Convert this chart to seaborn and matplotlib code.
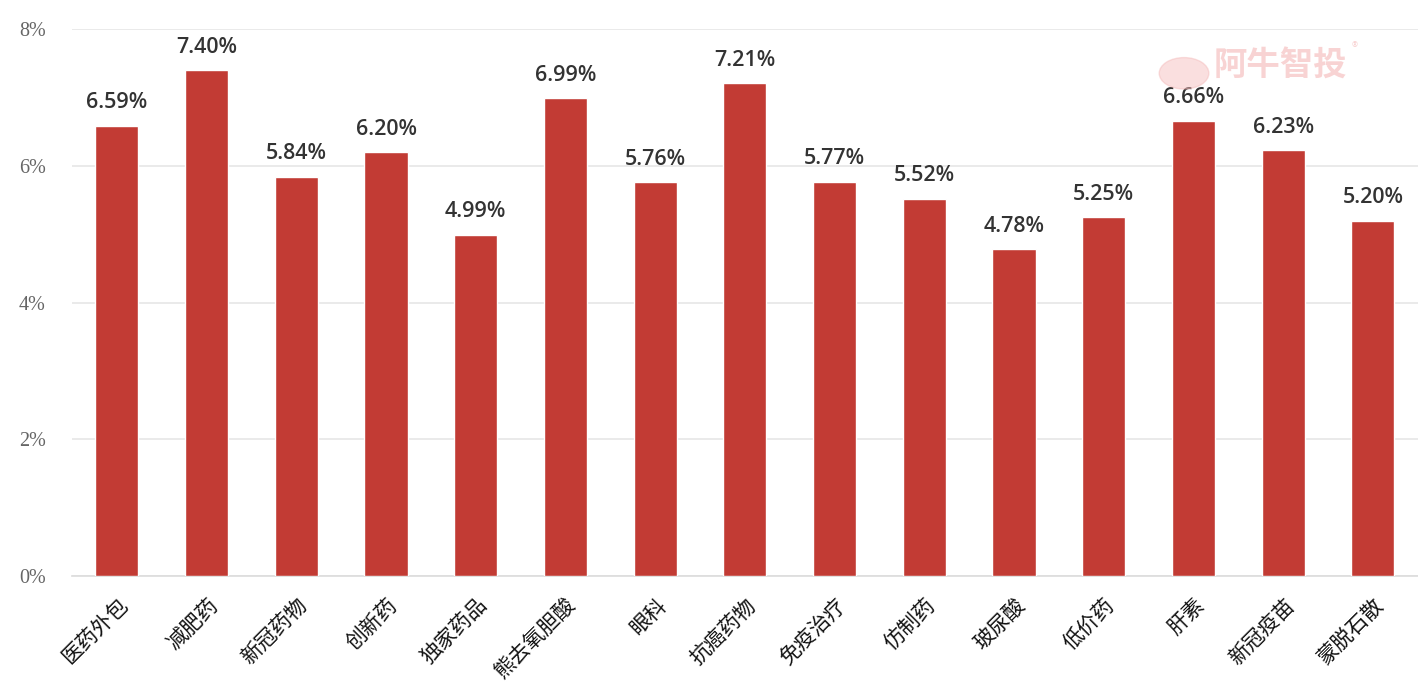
import matplotlib
matplotlib.use('Agg')
import matplotlib.pyplot as plt
from matplotlib.patches import Ellipse
import seaborn as sns
import pandas as pd

# categories and values (%)
categories = ['医药外包', '减肥药', '新冠药物', '创新药', '独家药品', '熊去氧胆酸', '眼科', '抗癌药物',
              '免疫治疗', '仿制药', '玻尿酸', '低价药', '肝素', '新冠疫苗', '蒙脱石散']
values = [6.59, 7.40, 5.84, 6.20, 4.99, 6.99, 5.76, 7.21, 5.77, 5.52, 4.78, 5.25, 6.66, 6.23, 5.20]
yticks = [0, 2, 4, 6, 8]

df = pd.DataFrame({'cat': categories, 'val': values})

sns.set_theme(style='white')
plt.rcParams['font.family'] = ['Noto Sans CJK SC', 'DejaVu Sans']

fig = plt.figure(figsize=(14.18, 6.98), dpi=100)
ax = fig.add_axes([0.0508, 0.175, 0.949, 0.783])

sns.barplot(data=df, x='cat', y='val', color='#c23b34', width=0.48, saturation=1, ax=ax, zorder=3)

# value labels
for i, v in enumerate(values):
    ax.annotate(f'{v:.2f}%', (i, v), xytext=(0, 9), textcoords='offset points',
                ha='center', va='bottom', fontsize=15.5, color='#333333', fontweight='semibold',
                family='Open Sans')

ax.set_ylim(0, 8)
ax.set_xlim(-0.5, len(categories) - 0.5)
ax.set_yticks(yticks)
ax.set_yticklabels([f'{t}%' for t in yticks], family='Liberation Serif', fontsize=14.5, color='#666666')
ax.yaxis.grid(True, color='#e6e6e6', linewidth=1.2, zorder=0)
ax.tick_params(axis='y', length=0, pad=19)
ax.tick_params(axis='x', length=0, pad=13)
plt.setp(ax.get_xticklabels(), rotation=45, ha='right', rotation_mode='anchor', fontsize=15, color='#111111')
ax.set_xlabel('')
ax.set_ylabel('')
for s in ['top', 'right', 'left']:
    ax.spines[s].set_visible(False)
ax.spines['bottom'].set_color('#dddddd')

# watermark
fig.patches.append(Ellipse((0.835, 0.895), 0.035, 0.045, transform=fig.transFigure,
                           color='#f4b8b8', alpha=0.45, zorder=0))
fig.text(0.903, 0.905, '阿牛智投', fontsize=24, fontweight='bold', color='#f2a8a8', alpha=0.5,
         ha='center', va='center')
fig.text(0.955, 0.932, '®', fontsize=9, color='#f2a8a8', alpha=0.5, ha='center', va='center')

fig.savefig('out.png', dpi=100)
